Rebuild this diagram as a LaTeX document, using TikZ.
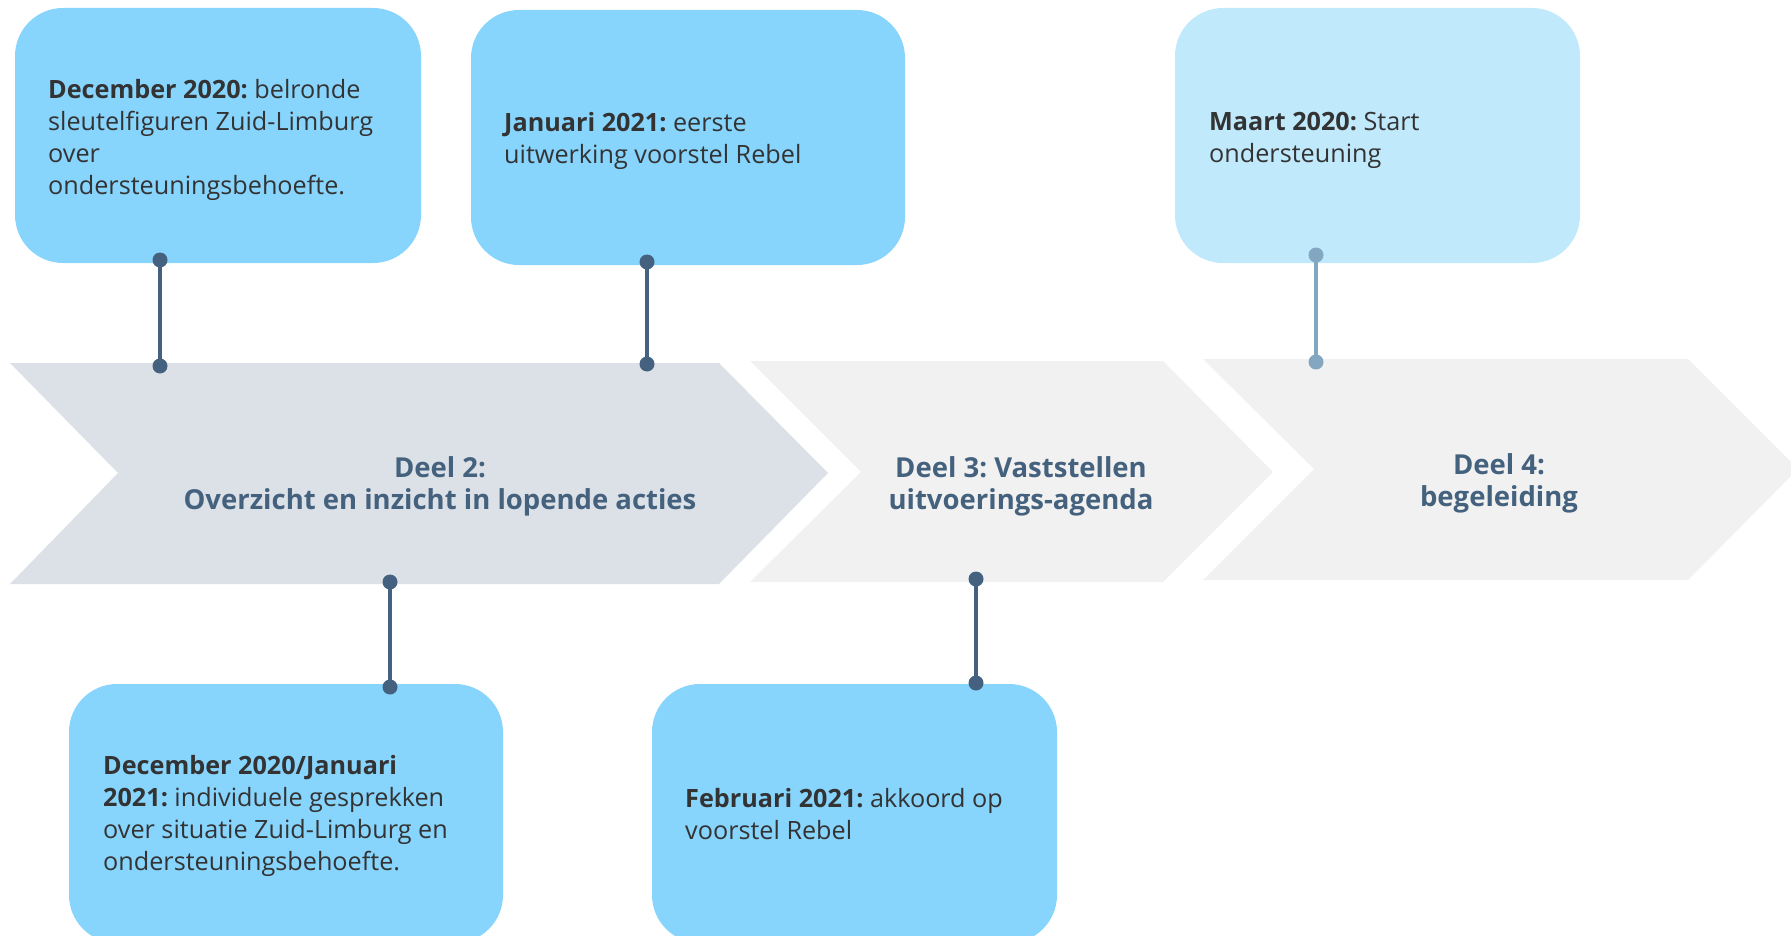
\documentclass[tikz,border=0pt]{standalone}
\usepackage{fontspec}
\setmainfont{Open Sans}
\hyphenpenalty=10000
\exhyphenpenalty=10000
\frenchspacing
\definecolor{cardblue}{HTML}{87D4FD}
\definecolor{cardpale}{HTML}{C0E9FC}
\definecolor{phasedark}{HTML}{DCE1E8}
\definecolor{phaselight}{HTML}{F1F1F1}
\definecolor{pin}{HTML}{44627F}
\definecolor{pinpale}{HTML}{84A7C1}
\definecolor{slate}{HTML}{44617E}
\definecolor{ink}{HTML}{333333}
\begin{document}
\begin{tikzpicture}[x=1pt,y=-1pt,
  card/.style={fill=cardblue, rounded corners=48pt, inner sep=0pt},
  cardtext/.style={anchor=west, inner sep=0pt, align=left, text=ink,
    font=\fontsize{25.2}{32}\selectfont},
  phase/.style={align=center, text=slate, inner sep=0pt,
    font=\fontsize{27.5}{32}\selectfont\bfseries},
  pinline/.style={draw=pin, line width=4pt},
  pindot/.style={fill=pin},
]
\useasboundingbox (0,0) rectangle (1791,936);

% phase chevrons
\fill[phasedark] (10,363) -- (719,363) -- (828,473) -- (719,584) -- (10,584) -- (118,473) -- cycle;
\fill[phaselight] (750,361) -- (1163,361) -- (1273,472) -- (1163,582) -- (750,582) -- (861,472) -- cycle;
\fill[phaselight] (1203,359) -- (1688,359) -- (1798,469) -- (1688,580) -- (1203,580) -- (1314,469) -- cycle;

\node[phase] (p2) at (440,486) {Deel 2:\\Overzicht en inzicht in lopende acties};
\node[phase] (p3) at (1021,486) {Deel 3: Vaststellen\\uitvoerings-agenda};
\node[phase] (p4) at (1499,483) {Deel 4:\\begeleiding};

% milestone cards
\node[card, minimum width=406pt, minimum height=255pt] (b1) at (218,135.5) {};
\node[card, minimum width=434pt, minimum height=255pt] (b2) at (688,137.5) {};
\node[card, fill=cardpale, minimum width=405pt, minimum height=255pt] (b3) at (1377.5,135.5) {};
\node[card, minimum width=434pt, minimum height=259pt] (b4) at (286,813.5) {};
\node[card, minimum width=405pt, minimum height=259pt] (b5) at (854.5,813.5) {};

\node[cardtext] (b1t) at (48,140)
  {\textbf{December 2020:} belronde\\sleutelfiguren Zuid-Limburg\\over\\ondersteuningsbehoefte.};
\node[cardtext] (b2t) at (504,141)
  {\textbf{Januari 2021:} eerste\\uitwerking voorstel Rebel};
\node[cardtext] (b3t) at (1209,140.5)
  {\textbf{Maart 2020:} Start\\ondersteuning};
\node[cardtext] (b4t) at (103,816)
  {\textbf{December 2020/Januari}\\\textbf{2021:} individuele gesprekken\\over situatie Zuid-Limburg en\\ondersteuningsbehoefte.};
\node[cardtext] (b5t) at (685,814)
  {\textbf{Februari 2021:} akkoord op\\voorstel Rebel};

% pin ends
\coordinate (t1) at (160,260);  \coordinate (e1) at (160,366);
\coordinate (t2) at (647,262);  \coordinate (e2) at (647,364);
\coordinate (t3) at (1316,255); \coordinate (e3) at (1316,362);
\coordinate (t4) at (390,687);  \coordinate (e4) at (390,582);
\coordinate (t5) at (976,683);  \coordinate (e5) at (976,579);

\foreach \i in {1,2,4,5} {
  \draw[pinline] (t\i) -- (e\i);
  \fill[pindot] (t\i) circle (7.5pt) (e\i) circle (7.5pt);
}
\draw[pinline, draw=pinpale] (t3) -- (e3);
\fill[pinpale] (t3) circle (7.5pt) (e3) circle (7.5pt);
\end{tikzpicture}
\end{document}
